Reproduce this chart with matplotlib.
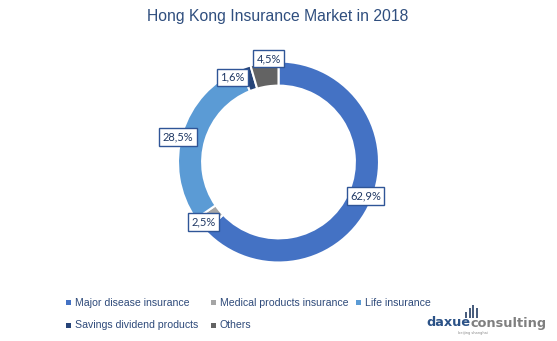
import numpy as np
import matplotlib
matplotlib.use("Agg")
import matplotlib.pyplot as plt
from matplotlib.patches import Rectangle

categories = ["Major disease insurance", "Medical products insurance", "Life insurance",
              "Savings dividend products", "Others"]
shares = [62.9, 2.5, 28.5, 1.6, 4.5]
colors = ["#4472C4", "#A5A5A5", "#5B9BD5", "#264478", "#636363"]
title = "Hong Kong Insurance Market in 2018"

# label placement: radius (in pie radii) and angular nudge (deg, clockwise) per slice
label_radius = [0.93, 0.96, 1.03, 0.96, 1.035]
label_nudge = [-1.9, 0.4, -2.7, -9.6, 2.6]

SANS = ["Liberation Sans", "DejaVu Sans"]
TXT = "#2E4A7A"

fig = plt.figure(figsize=(5.57, 3.41), dpi=100)
fig.patch.set_facecolor("white")

W, H = 557, 341
cx, cy, R = 278.5, 162, 100.5
ax = fig.add_axes([(cx - R) / W, (H - cy - R) / H, 2 * R / W, 2 * R / H])

wedges, _ = ax.pie(shares, colors=colors, startangle=90, counterclock=False, radius=1.0,
                   wedgeprops=dict(width=0.24, edgecolor="white", linewidth=1.5))
ax.set_xlim(-1, 1)
ax.set_ylim(-1, 1)
ax.set_aspect("equal")
ax.axis("off")

total = sum(shares)
cum = 0.0
for v, rr, nd in zip(shares, label_radius, label_nudge):
    mid = (cum + v / 2) / total * 360 + nd
    cum += v
    a = np.deg2rad(mid)
    x, y = rr * np.sin(a), rr * np.cos(a)
    ax.text(x, y, f"{v:.1f}%".replace(".", ","), ha="center", va="center",
            fontsize=8, color="#1F3864", family=["Lato", "DejaVu Sans"], clip_on=False,
            bbox=dict(boxstyle="square,pad=0.3", facecolor="white", edgecolor="#2F5597", linewidth=1.0))

fig.text(278 / W, 1 - 17 / H, title, ha="center", va="center", fontsize=11.3,
         color="#2F4E7E", family=SANS)

# legend
legend_pos = [(68, 302.5), (213, 302.5), (358, 302.5), (68, 325), (213, 325)]
for (px, py), name, col in zip(legend_pos, categories, colors):
    fig.patches.append(Rectangle(((px - 2.5) / W, 1 - (py + 2.5) / H), 5 / W, 5 / H,
                                 transform=fig.transFigure, facecolor=col, edgecolor="none"))
    fig.text((px + 7) / W, 1 - py / H, name, ha="left", va="center", fontsize=7.6,
             color=TXT, family=SANS)

# logo: "daxue" followed directly by "consulting", with a small bar icon above
t1 = fig.text(426 / W, 1 - 323 / H, "daxue", ha="left", va="center", fontsize=9.3,
              fontweight="bold", color="#2B5287", family=["DejaVu Sans"])
ax.annotate("consulting", xy=(1, 0), xycoords=t1, xytext=(0, 0), textcoords="offset points",
            ha="left", va="bottom", fontsize=9.3, fontweight="bold", color="#7F7F7F",
            family=["DejaVu Sans"], annotation_clip=False)
for i, hgt in enumerate([6, 10, 13, 10]):
    fig.patches.append(Rectangle(((465 + i * 3.5) / W, 1 - 318 / H), 2 / W, hgt / H,
                                 transform=fig.transFigure, facecolor="#4A5E7E", edgecolor="none"))
fig.text(473 / W, 1 - 333 / H, "beijing shanghai", ha="center", va="center", fontsize=2.6,
         color="#8C8C8C")

fig.savefig("out.png", dpi=100, facecolor="white")
